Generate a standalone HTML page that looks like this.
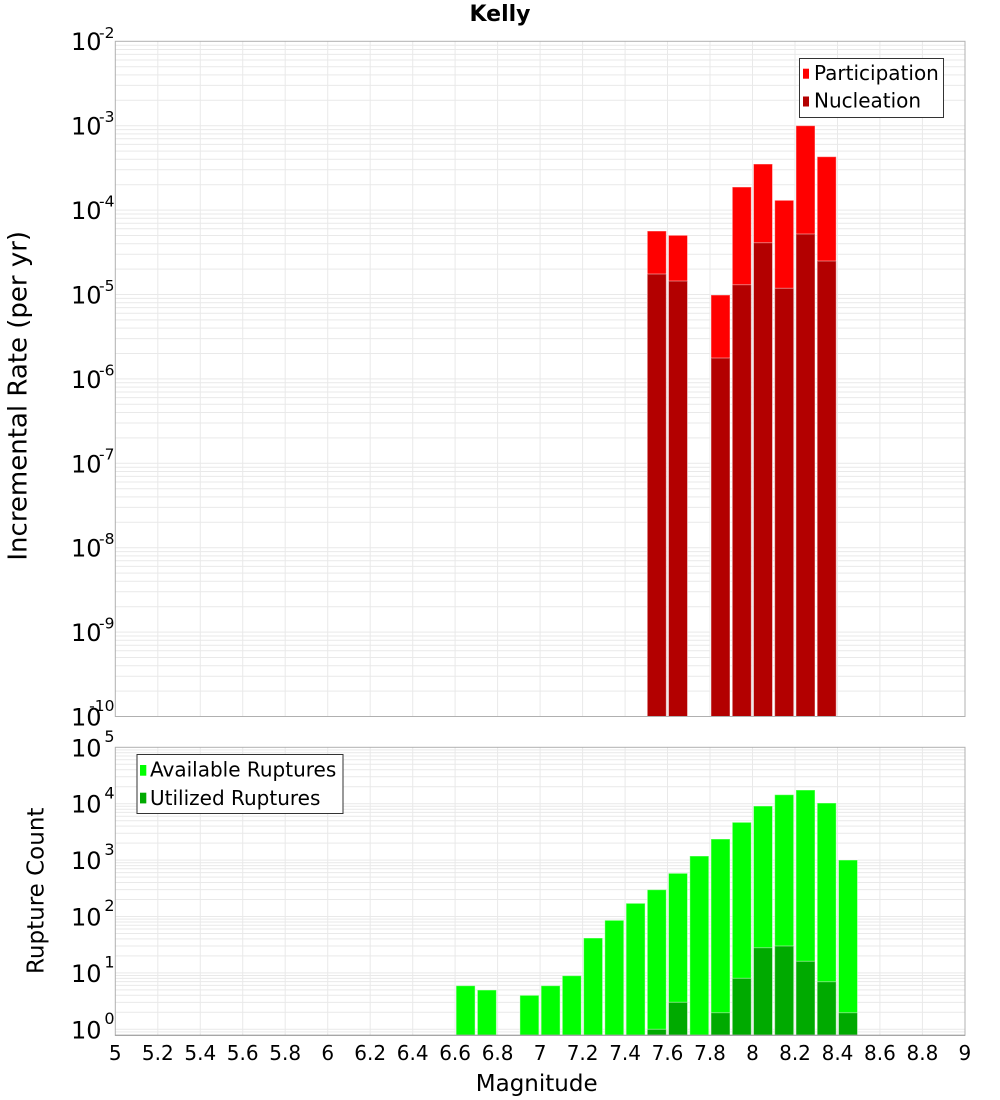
<!DOCTYPE html>
<html><head><meta charset="utf-8">
<style>
html,body{margin:0;padding:0;background:#fff;}
svg{display:block;font-family:"DejaVu Sans","Liberation Sans",sans-serif;}
</style></head>
<body>
<svg width="1000" height="1100" viewBox="0 0 1000 1100" xmlns="http://www.w3.org/2000/svg">
<rect width="1000" height="1100" fill="#fff"/>
<text x="500" y="21" text-anchor="middle" font-size="22" font-weight="bold" fill="#000">Kelly</text>

<!-- TOP PLOT grid -->
<g stroke="#e9e9e9" stroke-width="1" fill="none">
<path d="M115 45.2H965M115 49.5H965M115 54.4H965M115 60H965M115 66.7H965M115 74.9H965M115 85.4H965M115 100.3H965M115 125.7H965
M115 129.6H965M115 133.9H965M115 138.8H965M115 144.4H965M115 151.1H965M115 159.3H965M115 169.8H965M115 184.7H965M115 210.1H965
M115 214H965M115 218.3H965M115 223.2H965M115 228.8H965M115 235.5H965M115 243.7H965M115 254.2H965M115 269.1H965M115 294.5H965
M115 298.4H965M115 302.7H965M115 307.6H965M115 313.2H965M115 319.9H965M115 328.1H965M115 338.6H965M115 353.5H965M115 378.9H965
M115 382.8H965M115 387.1H965M115 392H965M115 397.6H965M115 404.3H965M115 412.5H965M115 423H965M115 437.9H965M115 463.3H965
M115 467.2H965M115 471.5H965M115 476.4H965M115 482H965M115 488.7H965M115 496.9H965M115 507.4H965M115 522.3H965M115 547.7H965
M115 551.6H965M115 555.9H965M115 560.8H965M115 566.4H965M115 573.1H965M115 581.3H965M115 591.8H965M115 606.7H965M115 632.1H965
M115 636H965M115 640.3H965M115 645.2H965M115 650.8H965M115 657.5H965M115 665.7H965M115 676.2H965M115 691.1H965"/>
<path d="M157.8 41V716M200.3 41V716M242.7 41V716M285.2 41V716M327.7 41V716M370.2 41V716M412.7 41V716M455.1 41V716M497.6 41V716M540.1 41V716M582.6 41V716M625.1 41V716M667.5 41V716M710 41V716M752.5 41V716M795 41V716M837.5 41V716M879.9 41V716M922.4 41V716"/>
</g>

<!-- TOP bars -->
<g stroke="rgba(255,255,255,0.45)" stroke-width="1">
<rect x="647.3" y="231" width="19" height="485.5" fill="#ff0000"/>
<rect x="668.5" y="235.3" width="19" height="481.2" fill="#ff0000"/>
<rect x="711" y="295" width="19" height="421.5" fill="#ff0000"/>
<rect x="732.3" y="187" width="19" height="529.5" fill="#ff0000"/>
<rect x="753.5" y="164" width="19" height="552.5" fill="#ff0000"/>
<rect x="774.7" y="200.3" width="19" height="516.2" fill="#ff0000"/>
<rect x="796" y="125.7" width="19" height="590.8" fill="#ff0000"/>
<rect x="817.2" y="156.7" width="19" height="559.8" fill="#ff0000"/>

<rect x="647.3" y="274" width="19" height="442.5" fill="#b30000"/>
<rect x="668.5" y="281" width="19" height="435.5" fill="#b30000"/>
<rect x="711" y="358" width="19" height="358.5" fill="#b30000"/>
<rect x="732.3" y="284.7" width="19" height="431.8" fill="#b30000"/>
<rect x="753.5" y="242.7" width="19" height="473.8" fill="#b30000"/>
<rect x="774.7" y="288.3" width="19" height="428.2" fill="#b30000"/>
<rect x="796" y="234" width="19" height="482.5" fill="#b30000"/>
<rect x="817.2" y="261" width="19" height="455.5" fill="#b30000"/>
</g>
<rect x="115.3" y="41.3" width="849.7" height="675.2" fill="none" stroke="#b0b0b0" stroke-width="1"/>

<!-- top legend -->
<rect x="799.5" y="58.5" width="144" height="59" fill="#fff" stroke="#333" stroke-width="1"/>
<rect x="803" y="68.7" width="6" height="10" fill="#ff0000"/>
<rect x="803" y="96.5" width="6" height="10" fill="#b30000"/>
<text x="814" y="80" font-size="20" fill="#000">Participation</text>
<text x="814" y="107.7" font-size="20" fill="#000">Nucleation</text>

<!-- top y tick labels -->
<g fill="#000">
<g font-size="24">
<text x="71" y="50">10</text>
<text x="71" y="134.5">10</text>
<text x="71" y="219">10</text>
<text x="71" y="303.5">10</text>
<text x="71" y="388">10</text>
<text x="71" y="472.3">10</text>
<text x="71" y="556.7">10</text>
<text x="71" y="641">10</text>
<text x="71" y="725.3">10</text>
</g>
<g font-size="15.5" text-anchor="end">
<text x="114.5" y="38">-2</text>
<text x="114.5" y="122">-3</text>
<text x="114.5" y="206.5">-4</text>
<text x="114.5" y="291">-5</text>
<text x="114.5" y="375.5">-6</text>
<text x="114.5" y="459.5">-7</text>
<text x="114.5" y="544">-8</text>
<text x="114.5" y="628.5">-9</text>
<text x="114.5" y="711">-10</text>
</g>
</g>
<text transform="translate(26.7,395.8) rotate(-90)" text-anchor="middle" font-size="26" fill="#000">Incremental Rate (per yr)</text>

<!-- BOTTOM PLOT grid -->
<g stroke="#e9e9e9" stroke-width="1" fill="none">
<path d="M115 749.9H965M115 752.8H965M115 756H965M115 759.8H965M115 764.3H965M115 769.7H965M115 776.8H965M115 786.7H965M115 803.7H965
M115 806.3H965M115 809.2H965M115 812.4H965M115 816.2H965M115 820.7H965M115 826.1H965M115 833.2H965M115 843.1H965M115 860.1H965
M115 862.7H965M115 865.6H965M115 868.8H965M115 872.6H965M115 877.1H965M115 882.5H965M115 889.6H965M115 899.5H965M115 916.5H965
M115 919.1H965M115 922H965M115 925.2H965M115 929H965M115 933.5H965M115 938.9H965M115 946H965M115 955.9H965M115 972.9H965
M115 975.5H965M115 978.4H965M115 981.6H965M115 985.4H965M115 989.9H965M115 995.3H965M115 1002.4H965M115 1012.3H965M115 1029.3H965M115 1031.9H965"/>
<path d="M157.8 747V1035M200.3 747V1035M242.7 747V1035M285.2 747V1035M327.7 747V1035M370.2 747V1035M412.7 747V1035M455.1 747V1035M497.6 747V1035M540.1 747V1035M582.6 747V1035M625.1 747V1035M667.5 747V1035M710 747V1035M752.5 747V1035M795 747V1035M837.5 747V1035M879.9 747V1035M922.4 747V1035"/>
</g>

<!-- bottom bars -->
<g stroke="rgba(255,255,255,0.45)" stroke-width="1" fill="#00ff00">
<rect x="456.1" y="985.7" width="19" height="49.6"/>
<rect x="477.4" y="990" width="19" height="45.3"/>
<rect x="519.9" y="995.3" width="19" height="40"/>
<rect x="541.1" y="985.7" width="19" height="49.6"/>
<rect x="562.3" y="975.7" width="19" height="59.6"/>
<rect x="583.6" y="938" width="19" height="97.3"/>
<rect x="604.8" y="920.3" width="19" height="115"/>
<rect x="626.1" y="903.3" width="19" height="132"/>
<rect x="647.3" y="889.7" width="19" height="145.6"/>
<rect x="668.5" y="873.3" width="19" height="162"/>
<rect x="689.8" y="856" width="19" height="179.3"/>
<rect x="711" y="839" width="19" height="196.3"/>
<rect x="732.3" y="822.3" width="19" height="213"/>
<rect x="753.5" y="806" width="19" height="229.3"/>
<rect x="774.7" y="794.7" width="19" height="240.6"/>
<rect x="796" y="790" width="19" height="245.3"/>
<rect x="817.2" y="803" width="19" height="232.3"/>
<rect x="838.5" y="860" width="19" height="175.3"/>
</g>
<g stroke="rgba(255,255,255,0.45)" stroke-width="1" fill="#00aa00">
<rect x="647.3" y="1029.3" width="19" height="6"/>
<rect x="668.5" y="1002.3" width="19" height="33"/>
<rect x="711" y="1012.7" width="19" height="22.6"/>
<rect x="732.3" y="978.3" width="19" height="57"/>
<rect x="753.5" y="947.7" width="19" height="87.6"/>
<rect x="774.7" y="946" width="19" height="89.3"/>
<rect x="796" y="961.3" width="19" height="74"/>
<rect x="817.2" y="981.7" width="19" height="53.6"/>
<rect x="838.5" y="1012.7" width="19" height="22.6"/>
</g>
<rect x="115.3" y="747.3" width="849.7" height="288" fill="none" stroke="#b0b0b0" stroke-width="1"/>
<line x1="115" y1="1035.3" x2="965" y2="1035.3" stroke="#999" stroke-width="1"/>

<!-- bottom legend -->
<rect x="137" y="754.5" width="206" height="59" fill="#fff" stroke="#333" stroke-width="1"/>
<rect x="140" y="765" width="6.3" height="10.7" fill="#00ff00"/>
<rect x="140" y="792.7" width="6.3" height="10.7" fill="#00aa00"/>
<text x="150" y="776.7" font-size="20" fill="#000">Available Ruptures</text>
<text x="150" y="805" font-size="20" fill="#000">Utilized Ruptures</text>

<!-- bottom y tick labels -->
<g fill="#000">
<g font-size="24">
<text x="71" y="756.3">10</text>
<text x="71" y="812.7">10</text>
<text x="71" y="869.1">10</text>
<text x="71" y="925.5">10</text>
<text x="71" y="981.9">10</text>
<text x="71" y="1038.3">10</text>
</g>
<g font-size="16" text-anchor="end">
<text x="114.5" y="742">5</text>
<text x="114.5" y="798.4">4</text>
<text x="114.5" y="854.8">3</text>
<text x="114.5" y="911.2">2</text>
<text x="114.5" y="967.6">1</text>
<text x="114.5" y="1024">0</text>
</g>
</g>
<text transform="translate(43.3,890.8) rotate(-90)" text-anchor="middle" font-size="23" fill="#000">Rupture Count</text>

<!-- x tick labels -->
<g font-size="20" text-anchor="middle" fill="#000">
<text x="115.3" y="1060">5</text>
<text x="157.8" y="1060">5.2</text>
<text x="200.3" y="1060">5.4</text>
<text x="242.7" y="1060">5.6</text>
<text x="285.2" y="1060">5.8</text>
<text x="327.7" y="1060">6</text>
<text x="370.2" y="1060">6.2</text>
<text x="412.7" y="1060">6.4</text>
<text x="455.1" y="1060">6.6</text>
<text x="497.6" y="1060">6.8</text>
<text x="540.1" y="1060">7</text>
<text x="582.6" y="1060">7.2</text>
<text x="625.1" y="1060">7.4</text>
<text x="667.5" y="1060">7.6</text>
<text x="710" y="1060">7.8</text>
<text x="752.5" y="1060">8</text>
<text x="795" y="1060">8.2</text>
<text x="837.5" y="1060">8.4</text>
<text x="879.9" y="1060">8.6</text>
<text x="922.4" y="1060">8.8</text>
<text x="964.9" y="1060">9</text>
</g>
<text x="536.7" y="1091" text-anchor="middle" font-size="23" fill="#000">Magnitude</text>
</svg>
</body></html>
